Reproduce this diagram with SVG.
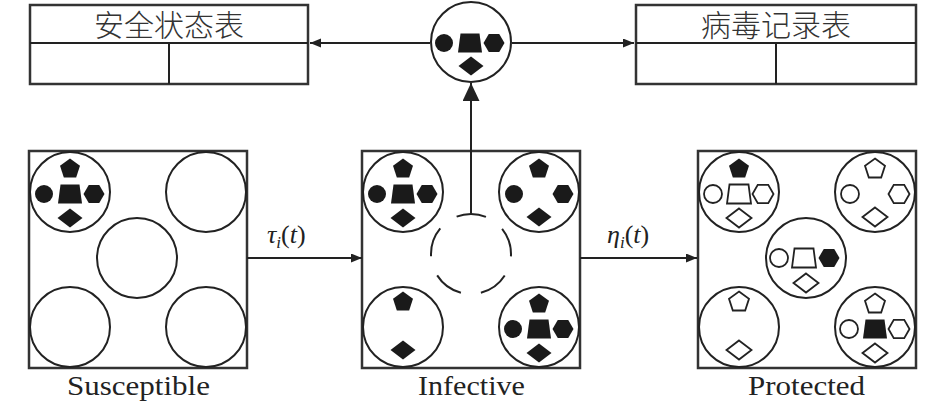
<svg xmlns="http://www.w3.org/2000/svg" xmlns:xlink="http://www.w3.org/1999/xlink" width="945" height="407" viewBox="0 0 945 407">
<style>
.ln{stroke:#222;stroke-width:2;fill:none}
.cir{stroke:#222;stroke-width:2;fill:#fff}
.box{stroke:#333;stroke-width:2.5;fill:#fff}
.f{fill:#1a1a1a;stroke:none}
.h{fill:#fff;stroke:#222;stroke-width:1.8}
.lbl{font-size:28px;fill:#222;text-anchor:middle}
.cjk{font-size:30px;fill:#333;text-anchor:middle}
.math{font-size:26px;fill:#222}
</style>
<defs>
<polygon id="pent" points="0,-10.5 9.99,-3.24 6.17,8.49 -6.17,8.49 -9.99,-3.24"/>
<circle id="dot" r="9"/>
<polygon id="trap" points="-9.5,-9.5 9.5,-9.5 12,9.5 -12,9.5"/>
<polygon id="hex" points="10.5,0 5.25,9.09 -5.25,9.09 -10.5,0 -5.25,-9.09 5.25,-9.09"/>
<polygon id="dia" points="0,-9.5 12.5,0 0,9.5 -12.5,0"/>
<marker id="ah" markerUnits="userSpaceOnUse" markerWidth="12" markerHeight="10" refX="11" refY="4.5" orient="auto"><path d="M0,0 L11,4.5 L0,9 z" fill="#222"/></marker>
<marker id="ahb" markerUnits="userSpaceOnUse" markerWidth="20" markerHeight="20" refX="18" refY="8.5" orient="auto"><path d="M0,0 L18,8.5 L0,17 z" fill="#222"/></marker>
</defs>

<g id="table-safe">
<rect class="box" x="30" y="5" width="278" height="79"/>
<line class="ln" x1="30" y1="43" x2="308" y2="43" stroke-width="2.5"/>
<line class="ln" x1="169" y1="43" x2="169" y2="84" stroke-width="2.5"/>
<text class="cjk" x="169" y="36" font-family="'Noto Sans CJK SC', 'Noto Sans', sans-serif" font-weight="300">安全状态表</text>
</g>
<g id="table-virus">
<rect class="box" x="636" y="5" width="280" height="79"/>
<line class="ln" x1="636" y1="43" x2="916" y2="43" stroke-width="2.5"/>
<line class="ln" x1="776" y1="43" x2="776" y2="84" stroke-width="2.5"/>
<text class="cjk" x="776" y="36" font-family="'Noto Sans CJK SC', 'Noto Sans', sans-serif" font-weight="300">病毒记录表</text>
</g>

<g id="center-node" transform="translate(471,42)">
<circle class="cir" r="40"/>
<use href="#dot" class="f" x="-27" y="1"/>
<use href="#trap" class="f" x="-1" y="1"/>
<use href="#hex" class="f" x="23" y="1"/>
<use href="#dia" class="f" x="0" y="24"/>
</g>

<g id="susceptible">
<rect class="box" x="29" y="151" width="218" height="217"/>
<g transform="translate(70,192)"><circle class="cir" r="40"/>
<use href="#pent" class="f" y="-23"/><use href="#dot" class="f" x="-26" y="2"/><use href="#trap" class="f" y="2"/><use href="#hex" class="f" x="24" y="2"/><use href="#dia" class="f" y="26"/></g>
<circle class="cir" cx="206" cy="192" r="40"/>
<circle class="cir" cx="137" cy="258" r="40"/>
<circle class="cir" cx="70" cy="327" r="40"/>
<circle class="cir" cx="206" cy="327" r="40"/>
<text class="lbl" x="138.5" y="395" font-family="'Liberation Serif', 'DejaVu Serif', serif" textLength="143" lengthAdjust="spacingAndGlyphs">Susceptible</text>
</g>

<g id="infective">
<rect class="box" x="362" y="151" width="218" height="217"/>
<g transform="translate(403,192)"><circle class="cir" r="40"/>
<use href="#pent" class="f" y="-23"/><use href="#dot" class="f" x="-26" y="2"/><use href="#trap" class="f" y="2"/><use href="#hex" class="f" x="24" y="2"/><use href="#dia" class="f" y="26"/></g>
<g transform="translate(539,192)"><circle class="cir" r="40"/>
<use href="#pent" class="f" y="-23"/><use href="#dot" class="f" x="-25" y="2"/><use href="#hex" class="f" x="24" y="2"/><use href="#dia" class="f" y="25"/></g>
<circle cx="471" cy="254" r="40" fill="none" stroke="#222" stroke-width="2" stroke-dasharray="30 20.265" stroke-dashoffset="27.57"/>
<g transform="translate(403,327)"><circle class="cir" r="40"/>
<use href="#pent" class="f" y="-25"/><use href="#dia" class="f" y="23"/></g>
<g transform="translate(539,327)"><circle class="cir" r="40"/>
<use href="#pent" class="f" y="-23"/><use href="#dot" class="f" x="-26" y="2"/><use href="#trap" class="f" y="2"/><use href="#hex" class="f" x="24" y="2"/><use href="#dia" class="f" y="26"/></g>
<text class="lbl" x="471.5" y="395" font-family="'Liberation Serif', 'DejaVu Serif', serif" textLength="107" lengthAdjust="spacingAndGlyphs">Infective</text>
</g>

<g id="protected">
<rect class="box" x="698" y="151" width="218" height="217"/>
<g transform="translate(739,192)"><circle class="cir" r="40"/>
<use href="#pent" class="f" y="-23"/><use href="#dot" class="h" x="-26" y="2"/><use href="#trap" class="h" y="2"/><use href="#hex" class="h" x="24" y="2"/><use href="#dia" class="h" y="26"/></g>
<g transform="translate(875,192)"><circle class="cir" r="40"/>
<use href="#pent" class="h" y="-23"/><use href="#dot" class="h" x="-25" y="2"/><use href="#hex" class="h" x="24" y="2"/><use href="#dia" class="h" y="25"/></g>
<g transform="translate(806,258)"><circle class="cir" r="40"/>
<use href="#dot" class="h" x="-27" y="0"/><use href="#trap" class="h" x="-2" y="0"/><use href="#hex" class="f" x="23" y="0"/><use href="#dia" class="h" y="25"/></g>
<g transform="translate(739,327)"><circle class="cir" r="40"/>
<use href="#pent" class="h" y="-25"/><use href="#dia" class="h" y="23"/></g>
<g transform="translate(875,327)"><circle class="cir" r="40"/>
<use href="#pent" class="h" y="-23"/><use href="#dot" class="h" x="-26" y="2"/><use href="#trap" class="f" y="2"/><use href="#hex" class="h" x="24" y="2"/><use href="#dia" class="h" y="26"/></g>
<text class="lbl" x="806.5" y="395" font-family="'Liberation Serif', 'DejaVu Serif', serif" textLength="117" lengthAdjust="spacingAndGlyphs">Protected</text>
</g>

<g id="connectors">
<line class="ln" x1="430" y1="43" x2="310" y2="43" marker-end="url(#ah)"/>
<line class="ln" x1="512" y1="43" x2="634" y2="43" marker-end="url(#ah)"/>
<line class="ln" x1="471" y1="214" x2="471" y2="83" marker-end="url(#ahb)"/>
<line class="ln" x1="247" y1="258" x2="362" y2="258" marker-end="url(#ah)"/>
<line class="ln" x1="580" y1="258" x2="697" y2="258" marker-end="url(#ah)"/>
</g>

<g id="edge-labels">
<text class="math" x="267" y="243" font-family="'Liberation Serif', 'DejaVu Serif', serif"><tspan font-style="italic">τ</tspan><tspan font-style="italic" font-size="17" dy="5">i</tspan><tspan dy="-5">(</tspan><tspan font-style="italic">t</tspan>)</text>
<text class="math" x="607" y="243" font-family="'Liberation Serif', 'DejaVu Serif', serif"><tspan font-style="italic">η</tspan><tspan font-style="italic" font-size="17" dy="5">i</tspan><tspan dy="-5">(</tspan><tspan font-style="italic">t</tspan>)</text>
</g>
</svg>
